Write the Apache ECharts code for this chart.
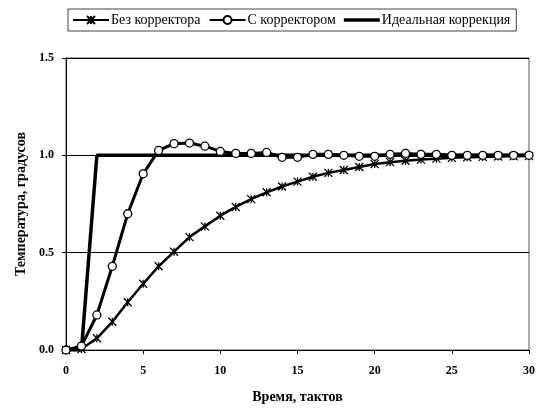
<!DOCTYPE html>
<html>
<head>
<meta charset="utf-8">
<script src="https://cdn.jsdelivr.net/npm/echarts@6/dist/echarts.min.js"></script>
<style>html,body{margin:0;padding:0;background:#fff}#c{width:539px;height:409px}</style>
</head>
<body>
<div id="c"></div>
<script>
var ticks = [0,1,2,3,4,5,6,7,8,9,10,11,12,13,14,15,16,17,18,19,20,21,22,23,24,25,26,27,28,29,30];
var noCorrector = [0,0.005,0.06,0.145,0.245,0.34,0.43,0.505,0.58,0.635,0.69,0.735,0.775,0.81,0.84,0.865,0.89,0.91,0.925,0.94,0.955,0.965,0.972,0.978,0.983,0.987,0.99,0.992,0.994,0.995,0.996];
var withCorrector = [0,0.02,0.18,0.43,0.70,0.905,1.025,1.06,1.063,1.047,1.02,1.01,1.01,1.015,0.99,0.99,1.005,1.005,1.0,0.995,0.995,1.005,1.01,1.005,1.005,1.0,1.0,1.0,1.0,1.0,1.0];
var idealX = [0,1,2,30];
var idealY = [0,0,1,1];
var seriesNames = ['Без корректора','С корректором','Идеальная коррекция'];
var xName = 'Время, тактов';
var yName = 'Температура, градусов';

var starPath = 'path://M0,0L10,10M10,0L0,10M5,0L5,10';
var font = '"Liberation Serif","Times New Roman",serif';

var chart = echarts.init(document.getElementById('c'), null, {renderer:'canvas'});
chart.setOption({
  animation:false,
  backgroundColor:'#fff',
  textStyle:{fontFamily:font},
  legend:{
    left:68, top:9,
    padding:[4,6,4,4],
    borderColor:'#444', borderWidth:1,
    itemGap:8, itemWidth:36, itemHeight:10,
    textStyle:{fontFamily:font,fontSize:14,color:'#000',padding:[0,0,0,-3]},
    data:[
      {name:seriesNames[0]},
      {name:seriesNames[1]},
      {name:seriesNames[2],icon:'path://M0,0L40,0L40,4L0,4Z'}
    ]
  },
  grid:{left:66,right:10,top:58,bottom:56,show:true,borderColor:'#555',borderWidth:1,backgroundColor:'#fff'},
  xAxis:{
    type:'value',min:0,max:30,interval:5,
    name:xName,nameLocation:'middle',nameGap:40,
    nameTextStyle:{fontFamily:font,fontSize:14,fontWeight:'bold',color:'#000'},
    axisLine:{lineStyle:{color:'#000',width:1}},
    axisTick:{show:true,length:4,lineStyle:{color:'#000'}},
    axisLabel:{fontFamily:font,fontSize:12,fontWeight:'bold',color:'#000',margin:15},
    splitLine:{show:false}
  },
  yAxis:{
    type:'value',min:0,max:1.5,interval:0.5,
    name:yName,nameLocation:'middle',nameGap:37,
    nameTextStyle:{fontFamily:font,fontSize:14,fontWeight:'bold',color:'#000'},
    axisLine:{show:true,lineStyle:{color:'#000',width:1}},
    axisTick:{show:true,length:4,lineStyle:{color:'#000'}},
    axisLabel:{fontFamily:font,fontSize:12,fontWeight:'bold',color:'#000',margin:12,formatter:function(v){return v.toFixed(1);}},
    splitLine:{show:true,lineStyle:{color:'#000',width:1}}
  },
  series:[
    {
      name:seriesNames[0],type:'line',z:3,
      data:ticks.map(function(t,i){return [t,noCorrector[i]];}),
      symbol:starPath,symbolSize:8,showAllSymbol:true,
      lineStyle:{color:'#000',width:2.5},
      itemStyle:{color:'#000',borderColor:'#000',borderWidth:1.3}
    },
    {
      name:seriesNames[1],type:'line',z:4,
      data:ticks.map(function(t,i){return [t,withCorrector[i]];}),
      symbol:'circle',symbolSize:8,showAllSymbol:true,
      lineStyle:{color:'#000',width:3},
      itemStyle:{color:'#fff',borderColor:'#000',borderWidth:1.3}
    },
    {
      name:seriesNames[2],type:'line',z:2,
      data:idealX.map(function(x,i){return [x,idealY[i]];}),
      symbol:'none',
      lineStyle:{color:'#000',width:3.5},
      itemStyle:{color:'#000'}
    }
  ]
});
</script>
</body>
</html>
